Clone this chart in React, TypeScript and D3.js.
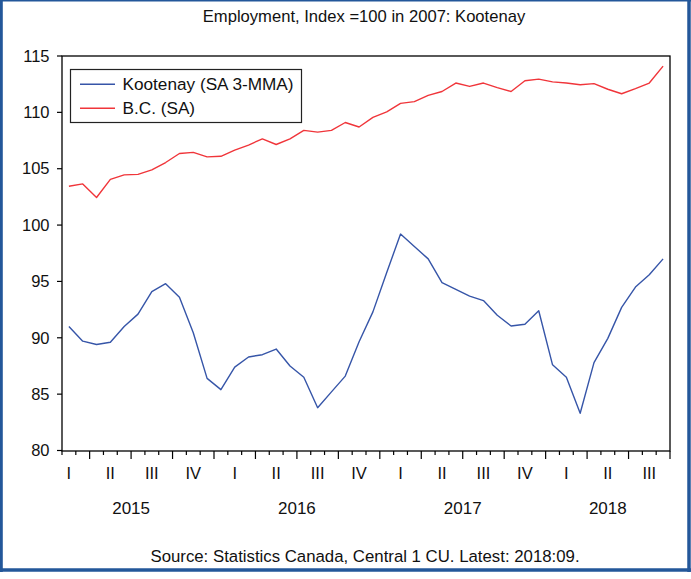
import { useRef, useEffect } from "react";
import * as d3 from "d3";

// monthly observations, Feb 2015 .. Sep 2018
const startMonth = 1; // months since Jan 2015
const kootenay = [
  91.0, 89.7, 89.4, 89.6, 91.0, 92.1, 94.1, 94.8, 93.6, 90.45, 86.4,
  85.4, 87.4, 88.3, 88.5, 89.0, 87.5, 86.5, 83.8, 85.2, 86.6, 89.65, 92.3,
  95.8, 99.2, 98.1, 97.0, 94.9, 94.3, 93.7, 93.3, 92.0, 91.05, 91.2, 92.4,
  87.6, 86.5, 83.3, 87.8, 89.95, 92.7, 94.5, 95.6, 97.0,
];
const bc = [
  103.45, 103.65, 102.45, 104.05, 104.45, 104.5, 104.9, 105.55, 106.35,
  106.45, 106.05, 106.1, 106.65, 107.1, 107.65, 107.15, 107.65, 108.4,
  108.25, 108.4, 109.1, 108.7, 109.55, 110.05, 110.8, 110.95, 111.5,
  111.85, 112.6, 112.3, 112.6, 112.2, 111.85, 112.8, 112.95, 112.7, 112.6,
  112.45, 112.55, 112.05, 111.65, 112.1, 112.6, 114.1,
];
const years = [2015, 2016, 2017, 2018];
const quarterNames = ["I", "II", "III", "IV"];
const yTicks = [80, 85, 90, 95, 100, 105, 110, 115];
const seriesNames = ["Kootenay (SA 3-MMA)", "B.C. (SA)"];
const seriesColors = ["#3655a8", "#f0353a"];

const FONT = "'Liberation Sans', Arial, sans-serif";

export default function App() {
  const svgRef = useRef<SVGSVGElement>(null);

  useEffect(() => {
    const svg = d3.select(svgRef.current);
    svg.selectAll("*").remove();

    const width = 691;
    const height = 579;
    const left = 62;
    const right = 670;
    const top = 56;
    const bottom = 451;

    const endMonth = startMonth + kootenay.length; // 45 -> Oct 2018 boundary
    const x = d3.scaleLinear().domain([startMonth, endMonth]).range([left, right]);
    const y = d3.scaleLinear().domain([80, 115]).range([bottom - 0.5, top]);

    svg.attr("width", width).attr("height", height);

    // outer frame
    const frame = "#23579a";
    svg.append("line").attr("x1", 0).attr("x2", width).attr("y1", 0.7).attr("y2", 0.7)
      .attr("stroke", frame).attr("stroke-width", 1.5);
    svg.append("line").attr("x1", 1.4).attr("x2", 1.4).attr("y1", 0).attr("y2", 572)
      .attr("stroke", frame).attr("stroke-width", 2.8);
    svg.append("line").attr("x1", 689).attr("x2", 689).attr("y1", 0).attr("y2", 572)
      .attr("stroke", frame).attr("stroke-width", 3.5);
    svg.append("line").attr("x1", 0).attr("x2", 691).attr("y1", 570).attr("y2", 570)
      .attr("stroke", frame).attr("stroke-width", 3.4);

    // title
    svg.append("text")
      .attr("x", 364).attr("y", 21.7)
      .attr("text-anchor", "middle")
      .style("font-family", FONT).attr("font-size", "16.6px")
      .attr("fill", "#111")
      .text("Employment, Index =100 in 2007: Kootenay");

    // plot frame
    svg.append("rect")
      .attr("x", left).attr("y", top)
      .attr("width", right - left).attr("height", bottom - top)
      .attr("fill", "none").attr("stroke", "#000").attr("stroke-width", 1.3);

    // y axis
    const yg = svg.append("g");
    yTicks.forEach((t) => {
      yg.append("line")
        .attr("x1", left - 5).attr("x2", left)
        .attr("y1", y(t)).attr("y2", y(t))
        .attr("stroke", "#000").attr("stroke-width", 1.2);
      yg.append("text")
        .attr("x", 49.5).attr("y", y(t)).attr("dy", "0.35em")
        .attr("text-anchor", "end")
        .style("font-family", FONT).attr("font-size", "16.5px")
        .attr("fill", "#111")
        .text(t);
    });

    // x axis month ticks
    const xg = svg.append("g");
    d3.range(startMonth, endMonth + 1).forEach((m) => {
      const long = m % 3 === 0;
      xg.append("line")
        .attr("x1", x(m)).attr("x2", x(m))
        .attr("y1", bottom).attr("y2", bottom + (long ? 8 : 4))
        .attr("stroke", "#000").attr("stroke-width", 1.2);
    });

    // quarter labels
    const nQuarters = Math.ceil(endMonth / 3);
    d3.range(nQuarters).forEach((q) => {
      const s = q * 3;
      const e = Math.min(s + 3, endMonth);
      xg.append("text")
        .attr("x", x((s + e) / 2)).attr("y", 479)
        .attr("text-anchor", "middle")
        .style("font-family", FONT).attr("font-size", "16.5px")
        .attr("fill", "#111")
        .text(quarterNames[q % 4]);
    });

    // year labels
    years.forEach((yr, i) => {
      const s = i * 12;
      const e = Math.min(s + 12, endMonth);
      xg.append("text")
        .attr("x", x((s + e) / 2)).attr("y", 514)
        .attr("text-anchor", "middle")
        .style("font-family", FONT).attr("font-size", "17px")
        .attr("fill", "#111")
        .text(yr);
    });

    // lines
    const line = d3.line<number>()
      .x((_, i) => x(startMonth + i + 0.5))
      .y((d) => y(d));

    [kootenay, bc].forEach((s, i) => {
      svg.append("path")
        .datum(s)
        .attr("d", line)
        .attr("fill", "none")
        .attr("stroke", seriesColors[i])
        .attr("stroke-width", 1.4)
        .attr("stroke-linejoin", "round");
    });

    // legend
    const lg = svg.append("g");
    lg.append("rect")
      .attr("x", 70.5).attr("y", 69.5)
      .attr("width", 231).attr("height", 53)
      .attr("fill", "#fff").attr("stroke", "#222").attr("stroke-width", 1.2);
    seriesNames.forEach((name, i) => {
      const ly = 84.3 + i * 24;
      lg.append("line")
        .attr("x1", 80).attr("x2", 115)
        .attr("y1", ly).attr("y2", ly)
        .attr("stroke", seriesColors[i]).attr("stroke-width", 1.4);
      lg.append("text")
        .attr("x", 122.5).attr("y", ly + 6)
        .style("font-family", FONT).attr("font-size", "17.2px")
        .attr("fill", "#111")
        .text(name);
    });

    // source note
    svg.append("text")
      .attr("x", 365).attr("y", 561.7)
      .attr("text-anchor", "middle")
      .style("font-family", FONT).attr("font-size", "16.8px")
      .attr("fill", "#111")
      .text("Source: Statistics Canada, Central 1 CU. Latest: 2018:09.");
  }, []);

  return (
    <svg
      ref={svgRef}
      style={{ position: "absolute", left: 0, top: 0, display: "block", background: "#fff" }}
    />
  );
}
